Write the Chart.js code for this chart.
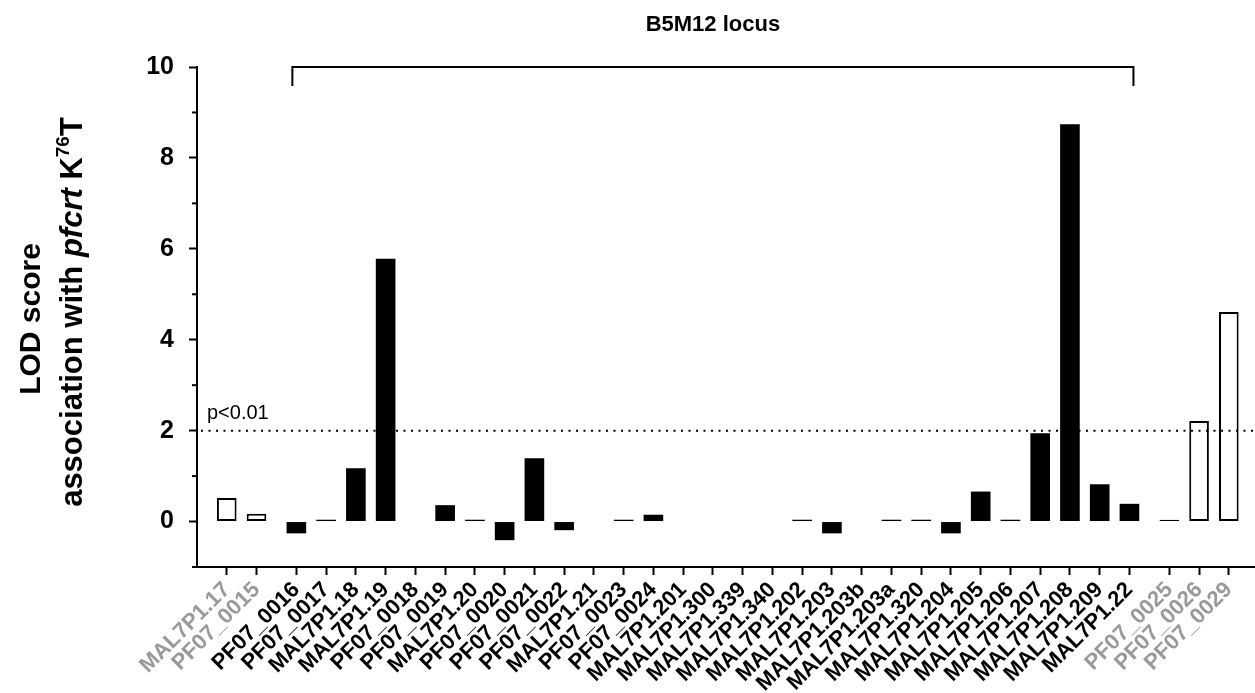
<!DOCTYPE html>
<html>
<head>
<meta charset="utf-8">
<title>LOD score - B5M12 locus</title>
<script src="https://cdn.jsdelivr.net/npm/chart.js@4.4.1/dist/chart.umd.min.js"></script>
<style>
  html, body { margin: 0; padding: 0; background: #fff; }
  #chart-wrap { position: relative; width: 1255px; height: 693px; }
</style>
</head>
<body>
<div id="chart-wrap"><canvas id="lod-chart"></canvas></div>
<script>
// =========================
// DATA
// =========================

const markers = [
  "MAL7P1.17", "PF07_0015",
  "PF07_0016", "PF07_0017", "MAL7P1.18", "MAL7P1.19", "PF07_0018", "PF07_0019",
  "MAL7P1.20", "PF07_0020", "PF07_0021", "PF07_0022", "MAL7P1.21", "PF07_0023",
  "PF07_0024", "MAL7P1.201", "MAL7P1.300", "MAL7P1.339", "MAL7P1.340", "MAL7P1.202",
  "MAL7P1.203", "MAL7P1.203b", "MAL7P1.203a", "MAL7P1.320", "MAL7P1.204", "MAL7P1.205",
  "MAL7P1.206", "MAL7P1.207", "MAL7P1.208", "MAL7P1.209", "MAL7P1.22",
  "PF07_0025", "PF07_0026", "PF07_0029"
];

// true = marker inside the B5M12 locus (filled bar, black label)
const inLocus = [
  false, false,
  true, true, true, true, true, true, true, true, true, true, true, true, true,
  true, true, true, true, true, true, true, true, true, true, true, true, true,
  true, true, true,
  false, false, false
];

// LOD score, null = not typed (no bar)
const lodScores = [
  0.52, 0.17,
  -0.26, 0.04, 1.17, 5.78, null, 0.36, 0.04, -0.41, 1.39, -0.19, null, 0.04,
  0.15, null, null, null, null, 0.04, -0.26, null, 0.04, 0.04, -0.26, 0.66,
  0.04, 1.94, 8.74, 0.82, 0.39,
  0.04, 2.21, 4.61
];

const yMajorTicks = [0, 2, 4, 6, 8, 10];
const yMinorTicks = [-1, 1, 3, 5, 7, 9];
const threshold = 2;
const thresholdLabel = "p<0.01";
const locusTitle = "B5M12 locus";

// =========================
// LAYOUT HELPERS
// =========================

const FONT = "'Liberation Sans', Arial, Helvetica, sans-serif";
const GREY = "#999999";
const GROUP_GAP = 0.34; // extra space between flanking markers and locus

// x position of each marker: index plus a small gap at each group change
const xPos = [];
let gapCount = 0;
markers.forEach((m, i) => {
  if (i > 0 && inLocus[i] !== inLocus[i - 1]) gapCount++;
  xPos.push(i + gapCount * GROUP_GAP);
});

// =========================
// PLUGINS
// =========================

const thresholdPlugin = {
  id: "threshold",
  afterDatasetsDraw(chart) {
    const { ctx, chartArea, scales } = chart;
    const y = scales.y.getPixelForValue(threshold);
    ctx.save();
    ctx.strokeStyle = "#000";
    ctx.lineWidth = 2;
    ctx.setLineDash([2, 5.5]);
    ctx.beginPath();
    ctx.moveTo(chartArea.left + 4, y);
    ctx.lineTo(chartArea.right, y);
    ctx.stroke();
    ctx.setLineDash([]);
    ctx.fillStyle = "#000";
    ctx.font = "20px " + FONT;
    ctx.textAlign = "left";
    ctx.textBaseline = "alphabetic";
    ctx.fillText(thresholdLabel, chartArea.left + 10, y - 12);
    ctx.restore();
  },
};

const locusPlugin = {
  id: "locusBracket",
  afterDraw(chart) {
    const { ctx, scales } = chart;
    const first = inLocus.indexOf(true);
    const last = inLocus.lastIndexOf(true);
    const x1 = scales.x.getPixelForValue(xPos[first]) - 4;
    const x2 = scales.x.getPixelForValue(xPos[last]) + 4;
    const y = scales.y.getPixelForValue(10);
    ctx.save();
    ctx.strokeStyle = "#000";
    ctx.lineWidth = 2;
    ctx.beginPath();
    ctx.moveTo(x1, y + 19);
    ctx.lineTo(x1, y);
    ctx.lineTo(x2, y);
    ctx.lineTo(x2, y + 19);
    ctx.stroke();
    ctx.fillStyle = "#000";
    ctx.font = "bold 22px " + FONT;
    ctx.textAlign = "center";
    ctx.textBaseline = "middle";
    ctx.fillText(locusTitle, (x1 + x2) / 2, 25);
    ctx.restore();
  },
};

const minorTickPlugin = {
  id: "minorTicks",
  afterDraw(chart) {
    const { ctx, chartArea, scales } = chart;
    ctx.save();
    ctx.strokeStyle = "#000";
    ctx.lineWidth = 2;
    yMinorTicks.forEach((v) => {
      const y = scales.y.getPixelForValue(v);
      ctx.beginPath();
      ctx.moveTo(chartArea.left - 5, y);
      ctx.lineTo(chartArea.left, y);
      ctx.stroke();
    });
    ctx.restore();
  },
};

function drawRuns(ctx, runs, baselineX, centerY) {
  let total = 0;
  runs.forEach((r) => {
    ctx.font = r.font;
    r.w = ctx.measureText(r.text).width;
    total += r.w;
  });
  ctx.save();
  ctx.translate(baselineX, centerY);
  ctx.rotate(-Math.PI / 2);
  ctx.textAlign = "left";
  ctx.textBaseline = "alphabetic";
  let x = -total / 2;
  runs.forEach((r) => {
    ctx.font = r.font;
    ctx.fillText(r.text, x, -(r.rise || 0));
    x += r.w;
  });
  ctx.restore();
}

const yTitlePlugin = {
  id: "yTitle",
  afterDraw(chart) {
    const { ctx, chartArea } = chart;
    const cy = (chartArea.top + chartArea.bottom) / 2;
    const bold = "bold 31px " + FONT;
    ctx.save();
    ctx.fillStyle = "#000";
    drawRuns(ctx, [{ text: "LOD score", font: "bold 30px " + FONT }], 40, cy + 2);
    drawRuns(ctx, [
      { text: "association with ", font: bold },
      { text: "pfcrt", font: "italic bold 31px " + FONT },
      { text: " K", font: bold },
      { text: "76", font: "bold 19px " + FONT, rise: 13 },
      { text: "T", font: bold },
    ], 82, cy - 5);
    ctx.restore();
  },
};

// =========================
// CHART
// =========================

const ctx = document.getElementById("lod-chart").getContext("2d");

new Chart(ctx, {
  type: "bar",
  data: {
    datasets: [
      {
        data: xPos.map((x, i) => ({ x, y: lodScores[i] })),
        backgroundColor: inLocus.map((v) => (v ? "#000" : "#fff")),
        borderColor: "#000",
        borderWidth: inLocus.map((v) => (v ? 0 : 2)),
        borderSkipped: false,
        barPercentage: 0.66,
        categoryPercentage: 1,
      },
    ],
  },
  options: {
    responsive: true,
    maintainAspectRatio: false,
    animation: false,
    layout: { padding: { top: 67, left: 0, right: 0, bottom: 0 } },
    plugins: {
      legend: { display: false },
      tooltip: { enabled: false },
    },
    scales: {
      x: {
        type: "linear",
        position: "bottom",
        offset: false,
        min: -1,
        max: xPos[xPos.length - 1] + 0.88,
        afterBuildTicks: (scale) => {
          scale.ticks = xPos.map((v) => ({ value: v }));
        },
        afterFit: (scale) => {
          scale.height = 126;
        },
        grid: {
          offset: false,
          drawOnChartArea: false,
          drawTicks: true,
          tickLength: 8,
          tickWidth: 2,
          tickColor: "#000",
        },
        border: { display: true, color: "#000", width: 2 },
        ticks: {
          autoSkip: false,
          minRotation: 45,
          maxRotation: 45,
          padding: 2,
          font: { family: FONT, size: 22, weight: "bold" },
          color: (c) => (inLocus[c.index] ? "#000" : GREY),
          callback: (value, index) => markers[index],
        },
      },
      y: {
        type: "linear",
        min: -1,
        max: 10,
        afterBuildTicks: (scale) => {
          scale.ticks = yMajorTicks.map((v) => ({ value: v }));
        },
        afterFit: (scale) => {
          scale.width = 197;
        },
        grid: {
          drawOnChartArea: false,
          drawTicks: true,
          tickLength: 8,
          tickWidth: 2,
          tickColor: "#000",
        },
        border: { display: true, color: "#000", width: 2 },
        ticks: {
          padding: 15,
          color: "#000",
          font: { family: FONT, size: 25, weight: "bold" },
        },
      },
    },
  },
  plugins: [thresholdPlugin, locusPlugin, minorTickPlugin, yTitlePlugin],
});
</script>
</body>
</html>
